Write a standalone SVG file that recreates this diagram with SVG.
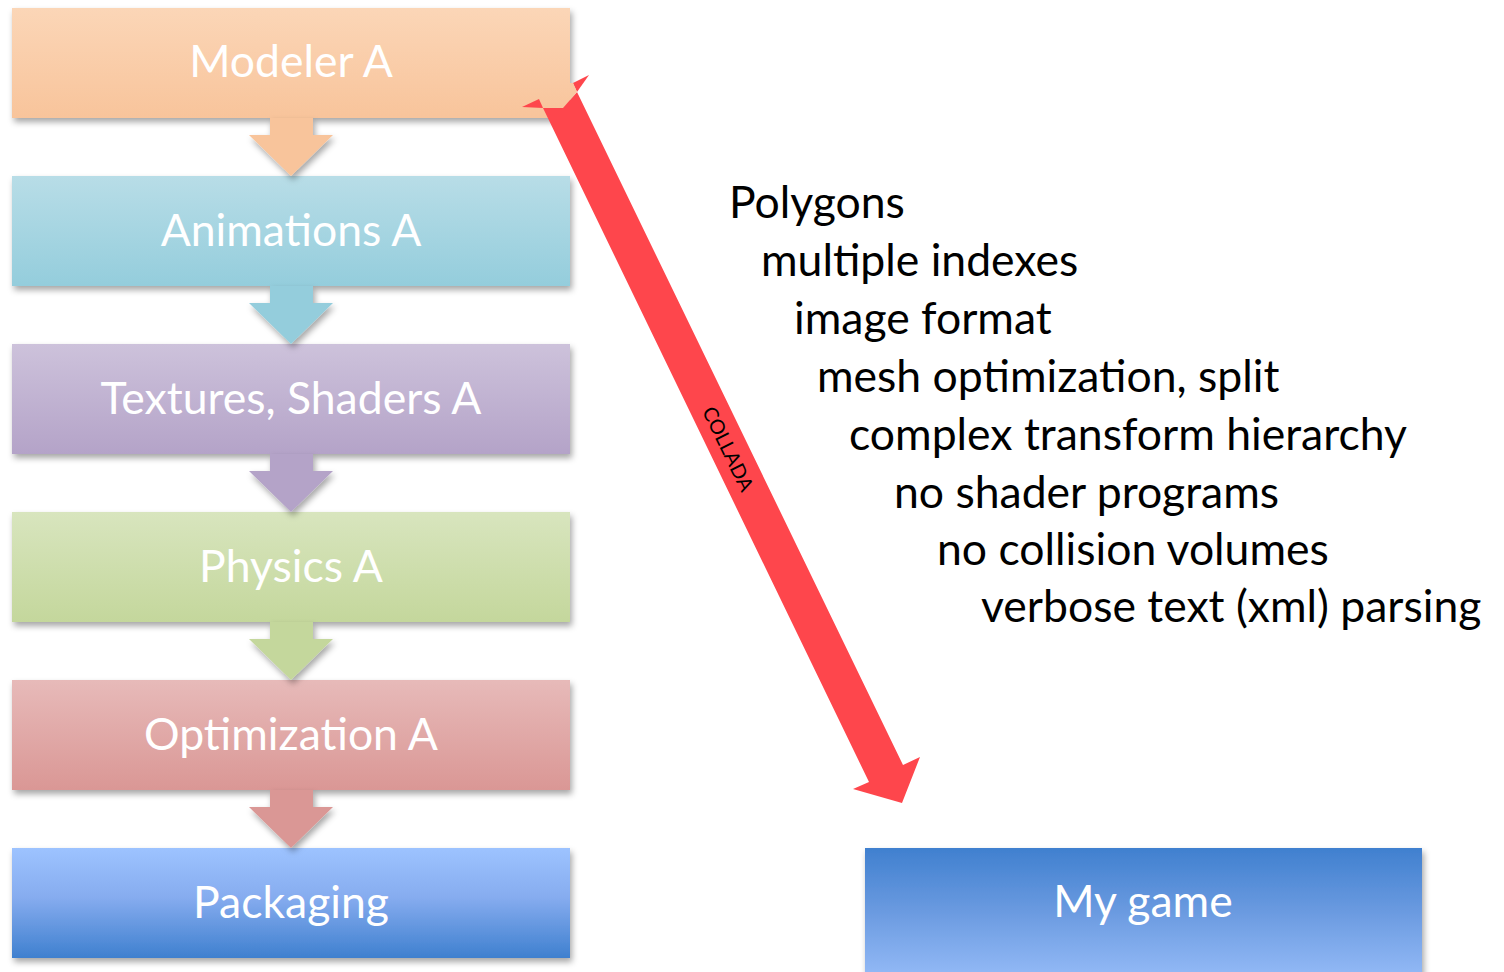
<svg xmlns="http://www.w3.org/2000/svg" width="1504" height="972" viewBox="0 0 1504 972">
  <defs>
    <linearGradient id="gOrange" x1="0" y1="0" x2="0" y2="1">
      <stop offset="0" stop-color="#fbd6b7"/>
      <stop offset="1" stop-color="#f8c49b"/>
    </linearGradient>
    <linearGradient id="gCyan" x1="0" y1="0" x2="0" y2="1">
      <stop offset="0" stop-color="#b8dde7"/>
      <stop offset="1" stop-color="#94cddc"/>
    </linearGradient>
    <linearGradient id="gPurple" x1="0" y1="0" x2="0" y2="1">
      <stop offset="0" stop-color="#cdc2db"/>
      <stop offset="1" stop-color="#b4a3c8"/>
    </linearGradient>
    <linearGradient id="gGreen" x1="0" y1="0" x2="0" y2="1">
      <stop offset="0" stop-color="#d8e5be"/>
      <stop offset="1" stop-color="#c4d79c"/>
    </linearGradient>
    <linearGradient id="gRed" x1="0" y1="0" x2="0" y2="1">
      <stop offset="0" stop-color="#e7bab9"/>
      <stop offset="1" stop-color="#da9795"/>
    </linearGradient>
    <linearGradient id="gBlueUp" x1="0" y1="0" x2="0" y2="1">
      <stop offset="0" stop-color="#9dc3ff"/>
      <stop offset="0.45" stop-color="#86acef"/>
      <stop offset="1" stop-color="#3f80cf"/>
    </linearGradient>
    <linearGradient id="gBlueDown" x1="0" y1="0" x2="0" y2="1">
      <stop offset="0" stop-color="#4080cf"/>
      <stop offset="0.45" stop-color="#6a9ae0"/>
      <stop offset="1" stop-color="#9abffa"/>
    </linearGradient>
    <filter id="shadow" x="-10%" y="-20%" width="120%" height="150%">
      <feDropShadow dx="2" dy="4" stdDeviation="3" flood-color="#000" flood-opacity="0.35"/>
    </filter>
  </defs>
  <style>
    .box { filter: url(#shadow); }
    .label { font-family: Lato, "Open Sans", "Liberation Sans", sans-serif; font-size: 44.5px; fill: #ffffff; text-anchor: middle; }
    .note { font-family: Lato, "Open Sans", "Liberation Sans", sans-serif; font-size: 44.5px; fill: #000000; }
    .step { filter: url(#shadow); }
    .collada { font-family: Lato, "Open Sans", "Liberation Sans", sans-serif; font-size: 20px; fill: #000000; text-anchor: middle; }
  </style>

  <rect width="1504" height="972" fill="#ffffff"/>

  <!-- pipeline stages -->
  <g id="modeler">
    <rect class="box" x="12" y="8" width="558" height="110" fill="url(#gOrange)"/>
    <text class="label" x="291" y="77">Modeler A</text>
  </g>
  <g id="animations">
    <rect class="box" x="12" y="176" width="558" height="110" fill="url(#gCyan)"/>
    <text class="label" x="291" y="246">Animations A</text>
  </g>
  <g id="textures">
    <rect class="box" x="12" y="344" width="558" height="110" fill="url(#gPurple)"/>
    <text class="label" x="291" y="414">Textures, Shaders A</text>
  </g>
  <g id="physics">
    <rect class="box" x="12" y="512" width="558" height="110" fill="url(#gGreen)"/>
    <text class="label" x="291" y="582">Physics A</text>
  </g>
  <g id="optimization">
    <rect class="box" x="12" y="680" width="558" height="110" fill="url(#gRed)"/>
    <text class="label" x="291" y="750">Optimization A</text>
  </g>
  <g id="packaging">
    <rect class="box" x="12" y="848" width="558" height="110" fill="url(#gBlueUp)"/>
    <text class="label" x="291" y="918">Packaging</text>
  </g>
  <g id="mygame">
    <rect class="box" x="865" y="848" width="557" height="140" fill="url(#gBlueDown)"/>
    <text class="label" x="1143" y="917">My game</text>
  </g>

  <!-- list of issues -->
  <g id="notes">
    <text class="note" x="729" y="218">Polygons</text>
    <text class="note" x="761" y="276">multiple indexes</text>
    <text class="note" x="794" y="334">image format</text>
    <text class="note" x="817" y="392">mesh optimization, split</text>
    <text class="note" x="849" y="450">complex transform hierarchy</text>
    <text class="note" x="894" y="508">no shader programs</text>
    <text class="note" x="937" y="565">no collision volumes</text>
    <text class="note" x="981" y="622">verbose text (xml) parsing</text>
  </g>

  <g id="connectors">
    <!-- stage-to-stage block arrows -->
    <path class="step" d="M270,118 H313 V135 H333 L291,176 L249,135 H270 Z" fill="#f8c49b"/>
    <path class="step" d="M270,286 H313 V303 H333 L291,344 L249,303 H270 Z" fill="#94cddc"/>
    <path class="step" d="M270,454 H313 V471 H333 L291,512 L249,471 H270 Z" fill="#b4a3c8"/>
    <path class="step" d="M270,622 H313 V639 H333 L291,680 L249,639 H270 Z" fill="#c4d79c"/>
    <path class="step" d="M270,790 H313 V807 H333 L291,848 L249,807 H270 Z" fill="#da9795"/>

    <!-- COLLADA export arrow -->
    <g id="collada-arrow" fill="#fe464c">
      <path d="M543,108 L563,108 L577,92 L903,765 L920,757 L902,803 L853,789 L869,782 Z"/>
      <path d="M522,107 L539,99 L543,108 Z"/>
      <path d="M573,83 L589,75 L577,92 Z"/>
    </g>
    <path d="M570,83 L573,83 L577,92 L570,100 Z" fill="#f9c8a1"/>
    <text class="collada" transform="translate(728,449) rotate(64)" y="7">COLLADA</text>
  </g>
</svg>
